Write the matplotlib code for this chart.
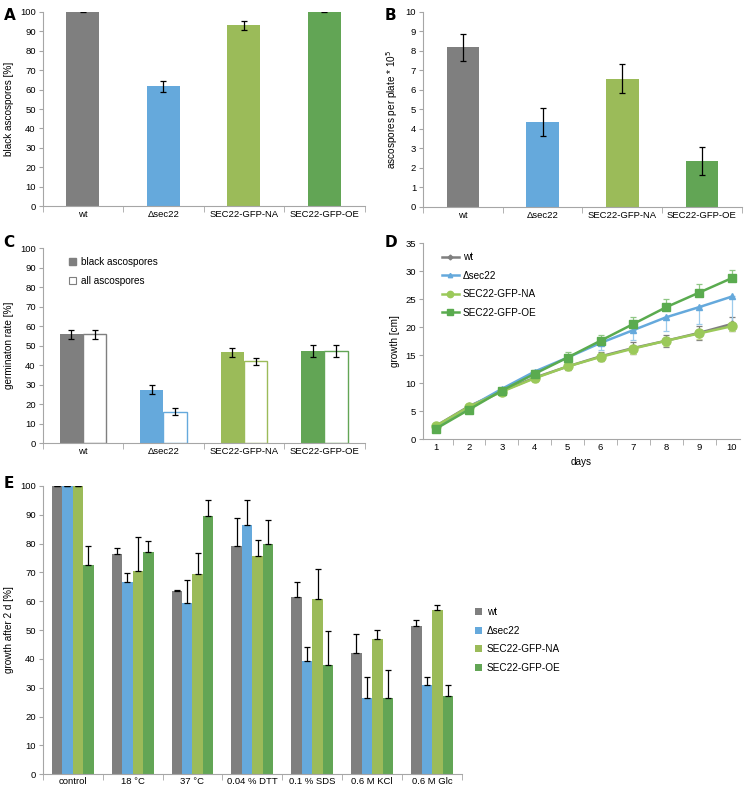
import numpy as np
import matplotlib
matplotlib.use("Agg")
import matplotlib.pyplot as plt
from matplotlib.ticker import FixedLocator, NullFormatter

plt.rcParams['font.family'] = ['Liberation Sans', 'DejaVu Sans']
plt.rcParams['font.size'] = 6.8

strains = ['wt', '\u0394sec22', 'SEC22-GFP-NA', 'SEC22-GFP-OE']
colors = ['#7f7f7f', '#65a9dc', '#9bbb59', '#62a555']

# panel A: black ascospores [%]
black_pct = [100, 61.7, 93.0, 100]
black_pct_err = [0.2, 2.8, 2.5, 0.2]

# panel B: ascospores per plate * 10^5
asco_count = [8.18, 4.36, 6.58, 2.35]
asco_count_err = [0.68, 0.70, 0.73, 0.70]

# panel C: germination rate [%]
germ_black = [55.8, 27.4, 46.7, 47.3]
germ_black_err = [2.3, 2.4, 2.3, 2.9]
germ_all = [55.8, 16.2, 42.0, 47.3]
germ_all_err = [2.3, 2.0, 1.8, 2.9]

# panel D: growth [cm] over days
days = [1, 2, 3, 4, 5, 6, 7, 8, 9, 10]
growth_wt = [2.4, 5.9, 8.6, 11.0, 13.0, 14.8, 16.3, 17.6, 19.0, 20.6]
growth_sec22 = [2.3, 5.7, 9.0, 12.1, 14.6, 17.2, 19.5, 21.8, 23.6, 25.5]
growth_na = [2.4, 5.8, 8.5, 10.9, 13.0, 14.7, 16.2, 17.6, 18.9, 20.2]
growth_oe = [1.9, 5.3, 8.7, 11.7, 14.6, 17.6, 20.6, 23.6, 26.2, 28.8]
growth_wt_err = [0.3, 0.4, 0.5, 0.6, 0.6, 0.8, 1.0, 1.1, 1.2, 1.2]
growth_sec22_err = [0.3, 0.4, 0.5, 0.5, 0.6, 1.2, 1.8, 2.5, 3.1, 5.0]
growth_na_err = [0.3, 0.4, 0.5, 0.6, 0.6, 0.8, 0.9, 1.0, 1.0, 0.9]
growth_oe_err = [0.3, 0.4, 0.5, 0.6, 0.9, 1.1, 1.2, 1.4, 1.5, 1.4]

# panel E: growth after 2 d [%]
conditions = ['control', '18 \u00b0C', '37 \u00b0C', '0.04 % DTT', '0.1 % SDS', '0.6 M KCl', '0.6 M Glc']
stress_wt = [100, 76.3, 63.6, 79.2, 61.3, 42.2, 51.3]
stress_sec22 = [100, 66.7, 59.2, 86.5, 39.4, 26.4, 31.1]
stress_na = [100, 70.3, 69.5, 75.6, 60.8, 46.8, 56.8]
stress_oe = [72.5, 77.0, 89.5, 79.8, 37.8, 26.4, 27.1]
stress_wt_err = [0, 2.2, 0.4, 9.8, 5.2, 6.3, 2.2]
stress_sec22_err = [0, 3.1, 8.1, 8.5, 4.6, 7.2, 2.5]
stress_na_err = [0, 12.0, 7.1, 5.7, 10.5, 3.2, 1.9]
stress_oe_err = [6.7, 4.0, 5.5, 8.2, 11.7, 9.9, 3.9]

spine_col = '#a6a6a6'


def style_axes(ax, ymax, ystep):
    for s in ['top', 'right']:
        ax.spines[s].set_visible(False)
    for s in ['left', 'bottom']:
        ax.spines[s].set_color(spine_col)
        ax.spines[s].set_linewidth(0.8)
    ax.set_ylim(0, ymax)
    ax.set_yticks(np.arange(0, ymax + ystep / 2, ystep))
    ax.tick_params(axis='y', color=spine_col, length=3, pad=2)


def category_ticks(ax, n):
    ax.set_xlim(-0.5, n - 0.5)
    ax.set_xticks(range(n))
    ax.tick_params(axis='x', which='major', length=0, pad=3)
    ax.xaxis.set_minor_locator(FixedLocator(np.arange(-0.5, n, 1.0)))
    ax.xaxis.set_minor_formatter(NullFormatter())
    ax.tick_params(axis='x', which='minor', length=4, color=spine_col)


fig = plt.figure(figsize=(7.5, 7.9), dpi=100)
ekw = dict(ecolor='black', elinewidth=0.9, capsize=2.5, capthick=0.9)
letter_kw = dict(fontsize=11, fontweight='bold', va='top', family='DejaVu Sans')

# A
axA = fig.add_axes([0.057, 0.739, 0.429, 0.246])
x = np.arange(len(strains))
axA.bar(x, black_pct, width=0.41, color=colors, yerr=black_pct_err, error_kw=ekw)
style_axes(axA, 100, 10)
category_ticks(axA, len(strains))
axA.set_xticklabels(strains)
axA.set_ylabel('black ascospores [%]', labelpad=4, fontsize=7.2)
fig.text(0.005, 0.99, 'A', **letter_kw)

# B
axB = fig.add_axes([0.564, 0.738, 0.425, 0.247])
axB.bar(x, asco_count, width=0.41, color=colors, yerr=asco_count_err, error_kw=ekw)
style_axes(axB, 10, 1)
category_ticks(axB, len(strains))
axB.set_xticklabels(strains)
axB.set_ylabel('ascospores per plate * 10$^5$', labelpad=4, fontsize=7.2)
fig.text(0.513, 0.99, 'B', **letter_kw)

# C
axC = fig.add_axes([0.057, 0.439, 0.429, 0.247])
bw = 0.29
axC.bar(x - bw / 2, germ_black, width=bw, color=colors, yerr=germ_black_err, error_kw=ekw,
        label='black ascospores')
axC.bar(x + bw / 2, germ_all, width=bw, color='white', edgecolor=colors, linewidth=1.0,
        yerr=germ_all_err, error_kw=ekw, label='all ascospores')
style_axes(axC, 100, 10)
category_ticks(axC, len(strains))
axC.set_xticklabels(strains)
axC.set_ylabel('germinaton rate [%]', labelpad=4, fontsize=7.2)
legC = axC.legend(loc='upper left', bbox_to_anchor=(0.055, 1.0), frameon=False,
                  handlelength=0.65, handleheight=0.65, handletextpad=0.5, labelspacing=0.9,
                  fontsize=7.2)
legC.legend_handles[0].set_color(colors[0])
legC.legend_handles[1].set_edgecolor(colors[0])
legC.legend_handles[1].set_linewidth(0.8)
fig.text(0.005, 0.703, 'C', **letter_kw)

# D
axD = fig.add_axes([0.564, 0.444, 0.423, 0.248])
series_d = [
    (growth_wt, 'D', 3.5, '#7f7f7f', [growth_wt_err, growth_wt_err]),
    (growth_sec22, '^', 4.5, '#65a9dc', [growth_sec22_err, [0] * 10]),
    (growth_na, 'o', 6.5, '#9bc95a', [growth_na_err, [0] * 10]),
    (growth_oe, 's', 5.5, '#5aab4f', [[0] * 10, growth_oe_err]),
]
err_cols = ['#7f7f7f', '#9ccbec', '#c2dc8e', '#8fc784']
for (vals, mk, ms, col, yerr), ec in zip(series_d, err_cols):
    axD.errorbar(days, vals, yerr=yerr, fmt='none', ecolor=ec, elinewidth=0.9,
                 capsize=2, capthick=0.9, zorder=1)
for (vals, mk, ms, col, yerr), lab in zip(series_d, strains):
    axD.plot(days, vals, color=col, marker=mk, markersize=ms, linewidth=1.8, label=lab, zorder=2)
style_axes(axD, 35, 5)
axD.set_xlim(0.6, 10.25)
axD.set_xticks(days)
axD.tick_params(axis='x', which='major', length=0, pad=3)
axD.xaxis.set_minor_locator(FixedLocator(np.arange(1.5, 10, 1.0)))
axD.tick_params(axis='x', which='minor', length=4, color=spine_col)
axD.set_xlabel('days', labelpad=3, fontsize=7.2)
axD.set_ylabel('growth [cm]', labelpad=4, fontsize=7.2)
legD = axD.legend(loc='upper left', bbox_to_anchor=(0.03, 1.0), frameon=False,
                  handlelength=1.7, handletextpad=0.4, labelspacing=0.85, markerscale=0.7,
                  fontsize=7.2)
fig.text(0.513, 0.703, 'D', **letter_kw)

# E
axE = fig.add_axes([0.057, 0.02, 0.559, 0.365])
xe = np.arange(len(conditions))
ew = 0.175
stress_vals = [stress_wt, stress_sec22, stress_na, stress_oe]
stress_errs = [stress_wt_err, stress_sec22_err, stress_na_err, stress_oe_err]
for i, (vals, errs) in enumerate(zip(stress_vals, stress_errs)):
    axE.bar(xe + (i - 1.5) * ew, vals, width=ew, color=colors[i], label=strains[i],
            yerr=[[0] * len(errs), errs], error_kw=ekw)
style_axes(axE, 100, 10)
category_ticks(axE, len(conditions))
axE.tick_params(axis='x', which='major', pad=2)
axE.set_xticklabels(conditions)
axE.set_ylabel('growth after 2 d [%]', labelpad=4, fontsize=7.2)
axE.legend(loc='upper left', bbox_to_anchor=(1.01, 0.61), frameon=False,
           handlelength=0.65, handleheight=0.65, handletextpad=0.5, labelspacing=0.85,
           fontsize=7.2)
fig.text(0.005, 0.398, 'E', **letter_kw)

fig.savefig('out.png', dpi=100)
